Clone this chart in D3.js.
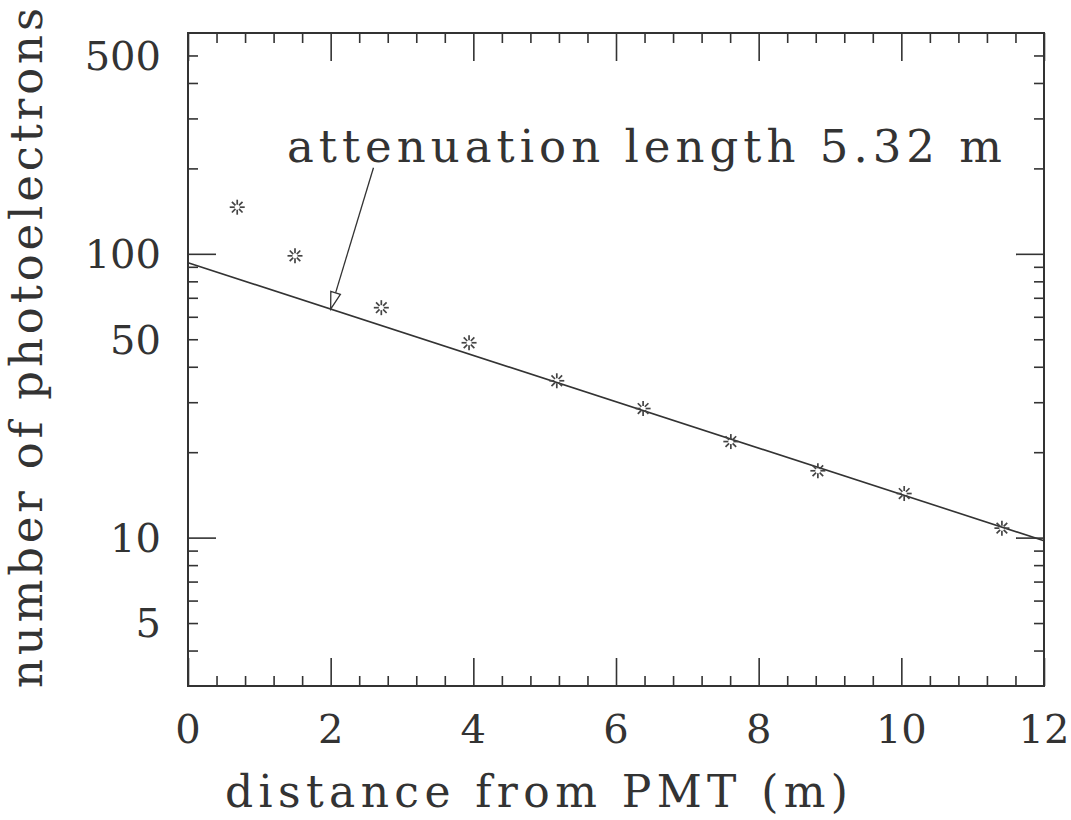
<!DOCTYPE html>
<html>
<head>
<meta charset="utf-8">
<script src="https://cdn.jsdelivr.net/npm/d3@7"></script>
<style>
  body { margin: 0; background: #fff; }
  text { font-family: "DejaVu Serif", "Liberation Serif", serif; fill: #333; }
  .frame path.domain { display: none; }
  .frame line { stroke: #333; stroke-width: 1.6; }
</style>
</head>
<body>
<svg id="chart" width="1071" height="820"></svg>
<script>
// measured points: distance from PMT (m) and photoelectrons
var distance = [0.69, 1.50, 2.71, 3.94, 5.17, 6.38, 7.61, 8.83, 10.04, 11.41];
var photoelectrons = [146, 98.4, 64.6, 48.6, 35.7, 28.5, 21.8, 17.2, 14.3, 10.8];

// exponential fit  N(x) = fitN0 * exp(-x / fitLength)
var fitN0 = 93;
var fitLength = 5.32;

var xMajor = [0, 2, 4, 6, 8, 10, 12];
var xMinor = [0.4, 0.8, 1.2, 1.6, 2.4, 2.8, 3.2, 3.6, 4.4, 4.8, 5.2, 5.6, 6.4, 6.8, 7.2, 7.6,
              8.4, 8.8, 9.2, 9.6, 10.4, 10.8, 11.2, 11.6];
var yMajor = [10, 100];
var yMinor = [4, 5, 6, 7, 8, 9, 20, 30, 40, 50, 60, 70, 80, 90, 200, 300, 400, 500];
var yLabels = [5, 10, 50, 100, 500];

// arrow: from the label down onto the fit line
var arrowFrom = [2.6, 201];
var arrowToX = 2.0;

(function draw() {
  var svg = d3.select("#chart");
  var pLeft = 188, pRight = 1044, pTop = 33, pBottom = 686;

  var x = d3.scaleLinear().domain([0, 12]).range([pLeft, pRight]);
  var y = d3.scaleLog().domain([3, 600]).range([pBottom, pTop]);

  //ticks on all four sides, pointing inwards
  function tickAxis(axisFn, scale, values, size, tx, ty) {
    svg.append("g").attr("class", "frame")
      .attr("transform", "translate(" + tx + "," + ty + ")")
      .call(axisFn(scale).tickValues(values).tickSize(-size).tickFormat(""));
  }
  tickAxis(d3.axisBottom, x, xMajor, 28, 0, pBottom);
  tickAxis(d3.axisBottom, x, xMinor, 10, 0, pBottom);
  tickAxis(d3.axisTop, x, xMajor, 28, 0, pTop);
  tickAxis(d3.axisTop, x, xMinor, 10, 0, pTop);
  tickAxis(d3.axisLeft, y, yMajor, 28, pLeft, 0);
  tickAxis(d3.axisLeft, y, yMinor, 10, pLeft, 0);
  tickAxis(d3.axisRight, y, yMajor, 28, pRight, 0);
  tickAxis(d3.axisRight, y, yMinor, 10, pRight, 0);

  svg.append("rect")
    .attr("x", pLeft).attr("y", pTop)
    .attr("width", pRight - pLeft).attr("height", pBottom - pTop)
    .attr("fill", "none").attr("stroke", "#333").attr("stroke-width", 2);

  // tick labels
  svg.selectAll("text.xl").data(xMajor).enter().append("text")
    .attr("class", "xl")
    .attr("x", function(d) { return x(d); })
    .attr("y", 743)
    .attr("text-anchor", "middle")
    .attr("font-size", 40)
    .text(function(d) { return d; });

  svg.selectAll("text.yl").data(yLabels).enter().append("text")
    .attr("class", "yl")
    .attr("x", 161)
    .attr("y", function(d) { return y(d); })
    .attr("dy", "0.36em")
    .attr("text-anchor", "end")
    .attr("font-size", 40)
    .text(function(d) { return d; });

  // axis titles
  svg.append("text")
    .attr("x", 225).attr("y", 807)
    .attr("font-size", 44)
    .attr("textLength", 623).attr("lengthAdjust", "spacing")
    .text("distance from PMT (m)");

  svg.append("text")
    .attr("transform", "translate(42,688) rotate(-90)")
    .attr("font-size", 45)
    .attr("textLength", 680).attr("lengthAdjust", "spacing")
    .text("number of photoelectrons");

  // fit line
  var fitLine = d3.line()
    .x(function(d) { return x(d); })
    .y(function(d) { return y(fitN0 * Math.exp(-d / fitLength)); });
  svg.append("path")
    .datum([0, 12])
    .attr("d", fitLine)
    .attr("fill", "none").attr("stroke", "#333").attr("stroke-width", 1.6);

  // star markers (8 short dashes around an empty centre)
  var points = distance.map(function(d, i) { return [d, photoelectrons[i]]; });
  var marker = svg.selectAll("g.pt").data(points).enter().append("g")
    .attr("class", "pt")
    .attr("transform", function(d) { return "translate(" + x(d[0]) + "," + y(d[1]) + ")"; });
  d3.range(8).forEach(function(k) {
    var a = k * Math.PI / 4;
    marker.append("line")
      .attr("x1", 2.5 * Math.cos(a)).attr("y1", 2.5 * Math.sin(a))
      .attr("x2", 7.5 * Math.cos(a)).attr("y2", 7.5 * Math.sin(a))
      .attr("stroke", "#444").attr("stroke-width", 1.7);
  });

  // annotation + open arrow
  svg.append("text")
    .attr("x", 287).attr("y", 162)
    .attr("font-size", 45)
    .attr("textLength", 715).attr("lengthAdjust", "spacing")
    .text("attenuation length " + fitLength.toFixed(2) + " m");

  var ax0 = x(arrowFrom[0]), ay0 = y(arrowFrom[1]);
  var ax1 = x(arrowToX), ay1 = y(fitN0 * Math.exp(-arrowToX / fitLength));
  var len = Math.hypot(ax1 - ax0, ay1 - ay0);
  var ux = (ax1 - ax0) / len, uy = (ay1 - ay0) / len;
  var bx = ax1 - 17 * ux, by = ay1 - 17 * uy;
  svg.append("line")
    .attr("x1", ax0).attr("y1", ay0).attr("x2", bx).attr("y2", by)
    .attr("stroke", "#333").attr("stroke-width", 1.3);
  svg.append("polygon")
    .attr("points", [[ax1, ay1], [bx + 5 * uy, by - 5 * ux], [bx - 5 * uy, by + 5 * ux]].join(" "))
    .attr("fill", "#fff").attr("stroke", "#333").attr("stroke-width", 1.3);
})();
</script>
</body>
</html>
